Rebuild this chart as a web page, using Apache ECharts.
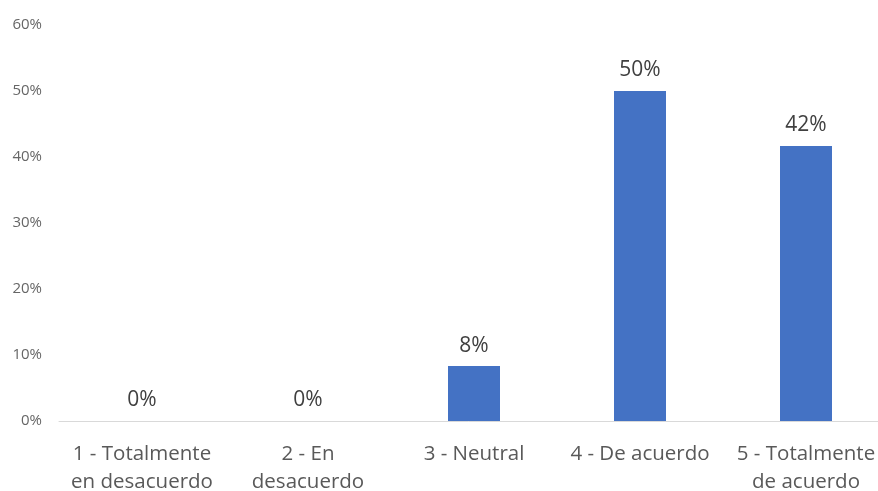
<!DOCTYPE html>
<html>
<head>
<meta charset="utf-8">
<script src="https://cdn.jsdelivr.net/npm/echarts@6/dist/echarts.min.js"></script>
<style>
  html, body { margin: 0; padding: 0; background: #ffffff; overflow: hidden; }
  #chart { width: 878px; height: 491px; }
</style>
</head>
<body>
<div id="chart"></div>
<script>
// Survey responses on a five-point agreement scale (share of respondents, %)
const categories = [
  '1 - Totalmente\nen desacuerdo',
  '2 - En\ndesacuerdo',
  '3 - Neutral',
  '4 - De acuerdo',
  '5 - Totalmente\nde acuerdo'
];
const shares = [0, 0, 8.33, 50, 41.67];
const yTicks = [0, 10, 20, 30, 40, 50, 60];

const chart = echarts.init(document.getElementById('chart'));
chart.setOption({
  animation: false,
  // fixed plot rectangle; it runs slightly past the right edge of the canvas
  grid: {
    left: 59, right: -11, top: 25, bottom: 70,
    containLabel: false,
    outerBoundsMode: 'none'
  },
  xAxis: {
    type: 'category',
    data: categories,
    axisLine: { show: true, lineStyle: { color: '#D9D9D9', width: 1 } },
    axisTick: { show: false },
    axisLabel: {
      color: '#595959',
      fontFamily: 'Open Sans',
      fontSize: 20.5,
      lineHeight: 28,
      margin: 19,
      interval: 0
    }
  },
  yAxis: {
    type: 'value',
    min: yTicks[0],
    max: yTicks[yTicks.length - 1],
    interval: 10,
    splitLine: { show: false },
    axisLine: { show: false },
    axisTick: { show: false },
    axisLabel: {
      color: '#666666',
      fontFamily: 'Open Sans',
      fontSize: 15,
      margin: 17,
      formatter: v => v + '%'
    }
  },
  series: [{
    type: 'bar',
    data: shares,
    barWidth: 52,
    itemStyle: { color: '#4472C4' },
    label: {
      show: true,
      position: 'top',
      distance: 10,
      color: '#404040',
      fontFamily: 'Open Sans',
      fontSize: 21,
      formatter: p => Math.round(p.value) + '%'
    }
  }]
});
</script>
</body>
</html>
